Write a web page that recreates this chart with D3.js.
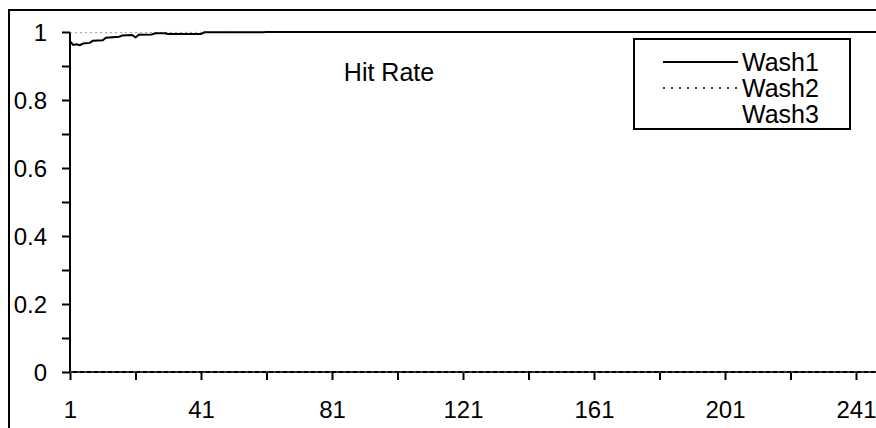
<!DOCTYPE html>
<html><head><meta charset="utf-8">
<script src="https://cdn.jsdelivr.net/npm/d3@7"></script>
<style>html,body{margin:0;padding:0;background:#fff;}svg{display:block;}</style>
</head><body>
<script>
// ---- data ----
const seriesNames = ["Wash1", "Wash2", "Wash3"];
const xTickLabels = [1, 41, 81, 121, 161, 201, 241];
const yTickValues = [0, 0.2, 0.4, 0.6, 0.8, 1];
// Wash1 (solid) : [sample index, hit rate]
const wash1 = [[1,0.972],[2,0.962],[3,0.964],[4,0.961],[5,0.966],[7,0.968],[8,0.974],[11,0.976],[12,0.983],[16,0.986],[17,0.990],[20,0.991],[21,0.984],[22,0.992],[26,0.993],[27,0.996],[30,0.996],[31,0.994],[41,0.994],[42,0.999],[60,0.999],[61,1.0],[252,1.0]];
// Wash2 (dotted)
const wash2 = [[1,0.998],[20,0.998],[40,0.999],[60,1.0],[252,1.0]];
// Wash3 (along zero)
const wash3 = [[1,0.0],[252,0.0]];

const W = 876, H = 428;
const svg = d3.select("body").append("svg").attr("width", W).attr("height", H);
const font = "'Liberation Sans', Arial, sans-serif";

const x = d3.scaleLinear().domain([1, 241]).range([70, 856]);
const y = d3.scaleLinear().domain([0, 1]).range([372, 32]);

// outer frame
svg.append("path").attr("d", `M9,${H} V10 H${W}`).attr("fill","none").attr("stroke","#000").attr("stroke-width",2);

// y axis
const yAxis = d3.axisLeft(y).tickValues(d3.range(0, 1.0001, 0.1)).tickSize(8).tickFormat(d => {
  const v = Math.round(d*10)/10;
  return yTickValues.some(t => Math.abs(t - v) < 1e-9) ? d3.format("~g")(v) : "";
});
const gy = svg.append("g").attr("transform", "translate(70,0)").call(yAxis);
gy.select(".domain").attr("stroke-width", 2).attr("d", `M0,${y(0)}V${y(1)}`);
gy.selectAll(".tick line").attr("stroke-width", 2);
gy.selectAll("text").attr("font-family", font).attr("font-size", 24).attr("x", -23).attr("dy","0.36em").attr("fill","#000");

// x axis
const xTicks = d3.range(1, 252, 20);
const xAxis = d3.axisBottom(x).tickValues(xTicks).tickSize(8).tickFormat(d => xTickLabels.includes(d) ? d : "");
const gx = svg.append("g").attr("transform", `translate(0,${y(0)})`).call(xAxis);
gx.select(".domain").attr("stroke-width", 2).attr("d", `M${x(1)},0H${W}`);
gx.selectAll(".tick line").attr("stroke-width", 2);
gx.selectAll("text").attr("font-family", font).attr("font-size", 24).attr("y", 46).attr("dy", 0).attr("fill","#000");

// lines
const line = d3.line().x(d => x(d[0])).y(d => y(d[1]));
const plot = svg.append("g");
plot.append("path").datum(wash3).attr("d", line).attr("fill","none").attr("stroke","#666").attr("stroke-width",1).attr("stroke-dasharray","3,4");
plot.append("path").datum(wash2).attr("d", line).attr("fill","none").attr("stroke","#999").attr("stroke-width",1).attr("stroke-dasharray","2,3");
plot.append("path").datum(wash1).attr("d", line).attr("fill","none").attr("stroke","#000").attr("stroke-width",2);

// title
svg.append("text").attr("x", 389).attr("y", 81).attr("text-anchor","middle")
  .attr("font-family", font).attr("font-size", 25).text("Hit Rate");

// legend
const lg = svg.append("g");
lg.append("rect").attr("x",634).attr("y",39).attr("width",216).attr("height",90).attr("fill","#fff").attr("stroke","#000").attr("stroke-width",2);
const styles = [{c:"#000",w:2,d:null},{c:"#000",w:1.5,d:"2,6"},{c:"none",w:0,d:null}];
seriesNames.forEach((n,i) => {
  const yy = 62 + i*26;
  lg.append("line").attr("x1",663).attr("x2",738).attr("y1",yy).attr("y2",yy)
    .attr("stroke",styles[i].c).attr("stroke-width",styles[i].w).attr("stroke-dasharray",styles[i].d);
  lg.append("text").attr("x",742).attr("y",yy+9).attr("font-family",font).attr("font-size",25).text(n);
});
</script>
</body></html>
